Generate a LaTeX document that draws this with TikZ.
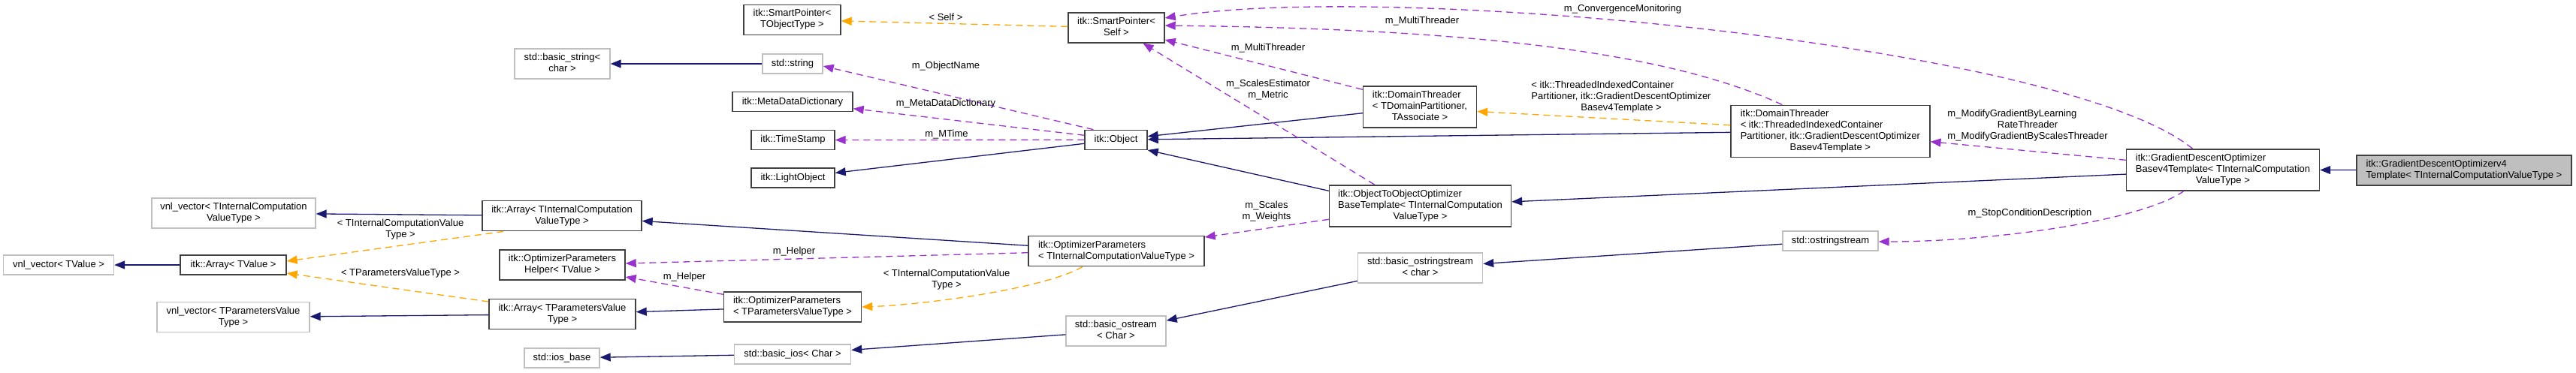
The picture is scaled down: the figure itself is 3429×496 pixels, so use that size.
\documentclass[tikz,border=0pt]{standalone}
\usepackage{fontspec}
\setmainfont{Liberation Sans}
\usetikzlibrary{arrows.meta}
\definecolor{dxblue}{RGB}{25,25,112}
\definecolor{dxorchid}{RGB}{153,50,204}
\definecolor{dxorange}{RGB}{255,165,0}
\definecolor{dxgrey}{RGB}{191,191,191}
\definecolor{dxedge}{RGB}{64,64,64}
% lines left aligned, last line centred
\newcommand{\boxlab}[2]{\begin{tabular}{@{}l@{}}#1\\\multicolumn{1}{@{}c@{}}{#2}\end{tabular}}

\begin{document}
\begin{tikzpicture}[x=1pt, y=-1pt,
    font=\fontsize{13}{15}\selectfont,
    cls/.style={draw=dxedge, line width=1.4pt, inner sep=0pt, fill=white},
    ext/.style={draw=dxgrey, line width=1.4pt, inner sep=0pt, fill=white},
    cur/.style={draw=dxedge, line width=1.4pt, inner sep=0pt, fill=dxgrey},
    oneln/.style={minimum height=26pt},
    twoln/.style={minimum height=40pt},
    threeln/.style={minimum height=55pt},
    fourln/.style={minimum height=69pt},
    inh/.style={dxblue, line width=1.3pt, -{Triangle[length=14pt,width=11pt]}},
    tpl/.style={dxorange, line width=1.3pt, dash pattern=on 9pt off 6pt, -{Triangle[length=14pt,width=11pt]}},
    use/.style={dxorchid, line width=1.3pt, dash pattern=on 9pt off 6pt, -{Triangle[length=14pt,width=11pt]}},
    elab/.style={inner sep=0pt, align=center}]
    \useasboundingbox (0,0) rectangle (3429,496);

    % classes
    \node[ext, twoln, minimum width=218pt] (vnlTIC) at (311,284) {\boxlab{vnl\_vector< TInternalComputation}{ValueType >}};
    \node[ext, oneln, minimum width=147pt] (vnlTV) at (78,353) {vnl\_vector< TValue >};
    \node[cls, oneln, minimum width=141pt] (arrTV) at (310.5,353) {itk::Array< TValue >};
    \node[ext, twoln, minimum width=203pt] (vnlTPV) at (310.5,422.7) {\boxlab{vnl\_vector< TParametersValue}{Type >}};
    \node[cls, twoln, minimum width=129pt] (spTOT) at (1054.5,26.3) {\boxlab{itk::SmartPointer<}{TObjectType >}};
    \node[ext, twoln, minimum width=127pt] (bstr) at (748.5,85) {\boxlab{std::basic\_string<}{char >}};
    \node[ext, oneln, minimum width=80pt] (str) at (1055,85) {std::string};
    \node[cls, oneln, minimum width=160pt] (mdd) at (1055,135.7) {itk::MetaDataDictionary};
    \node[cls, oneln, minimum width=111pt] (ts) at (1055.5,186.5) {itk::TimeStamp};
    \node[cls, oneln, minimum width=111pt] (lo) at (1055.5,237) {itk::LightObject};
    \node[cls, twoln, minimum width=212pt] (arrTIC) at (748,287.7) {\boxlab{itk::Array< TInternalComputation}{ValueType >}};
    \node[cls, twoln, minimum width=167pt] (oph) at (748.5,353) {\boxlab{itk::OptimizerParameters}{Helper< TValue >}};
    \node[cls, twoln, minimum width=195pt] (arrTPV) at (748.5,418.7) {\boxlab{itk::Array< TParametersValue}{Type >}};
    \node[cls, twoln, minimum width=183pt] (opTPV) at (1055,409) {\boxlab{itk::OptimizerParameters}{< TParametersValueType >}};
    \node[ext, oneln, minimum width=100pt] (iosb) at (748,477) {std::ios\_base};
    \node[ext, oneln, minimum width=155pt] (bios) at (1055,472) {std::basic\_ios< Char >};
    \node[cls, twoln, minimum width=128pt] (spSelf) at (1486,37) {\boxlab{itk::SmartPointer<}{Self >}};
    \node[cls, oneln, minimum width=83pt] (obj) at (1485.5,186.3) {itk::Object};
    \node[cls, twoln, minimum width=234pt] (optTIC) at (1486,334.7) {\boxlab{itk::OptimizerParameters}{< TInternalComputationValueType >}};
    \node[ext, twoln, minimum width=133pt] (bos) at (1485.5,441) {\boxlab{std::basic\_ostream}{< Char >}};
    \node[cls, threeln, minimum width=151pt] (dtTD) at (1890,142.5) {\boxlab{itk::DomainThreader\\< TDomainPartitioner,}{TAssociate >}};
    \node[cls, fourln, minimum width=265pt] (dtTIC) at (2436.3,174.7) {\boxlab{itk::DomainThreader\\< itk::ThreadedIndexedContainer\\Partitioner, itk::GradientDescentOptimizer}{Basev4Template >}};
    \node[cls, threeln, minimum width=242pt] (ooTIC) at (1890.5,274.3) {\boxlab{itk::ObjectToObjectOptimizer\\BaseTemplate< TInternalComputation}{ValueType >}};
    \node[ext, twoln, minimum width=166pt] (bosstr) at (1890.5,357) {\boxlab{std::basic\_ostringstream}{< char >}};
    \node[ext, oneln, minimum width=127pt] (osstr) at (2436.5,321) {std::ostringstream};
    \node[cls, threeln, minimum width=257pt] (gdoBase) at (2959,226.3) {\boxlab{itk::GradientDescentOptimizer\\Basev4Template< TInternalComputation}{ValueType >}};
    \node[cur, twoln, minimum width=286pt] (gdov4) at (3280,226.8) {\boxlab{itk::GradientDescentOptimizerv4}{Template< TInternalComputationValueType >}};

    % inheritance
    \draw[inh] (arrTIC) -- (vnlTIC);
    \draw[inh] (arrTV) -- (vnlTV);
    \draw[inh] (arrTPV) -- (vnlTPV);
    \draw[inh] (str) -- (bstr);
    \draw[inh] (obj) -- (lo);
    \draw[inh] (optTIC) -- (arrTIC);
    \draw[inh] (opTPV) -- (arrTPV);
    \draw[inh] (bios) -- (iosb);
    \draw[inh] (bos) -- (bios);
    \draw[inh] (dtTD) -- (obj);
    \draw[inh] (dtTIC) -- (obj);
    \draw[inh] ([yshift=20pt]ooTIC.west) -- (obj.south east);
    \draw[inh] (bosstr) -- (bos);
    \draw[inh] (osstr) -- (bosstr);
    \draw[inh] (gdoBase) -- (ooTIC);
    \draw[inh] (gdov4) -- (gdoBase);

    % template instances
    \draw[tpl] ([xshift=29pt]arrTIC.south west) -- ([yshift=5pt]arrTV.east);
    \draw[tpl] ([yshift=-4pt]arrTPV.north west) -- ([yshift=-11pt]arrTV.east);
    \draw[tpl] (spSelf) -- (spTOT);
    \draw[tpl] ([xshift=-45pt]optTIC.south) .. controls (1390,385) and (1230,406) .. (opTPV.east);
    \draw[tpl] ([yshift=8pt]dtTIC.west) -- ([yshift=-6pt]dtTD.east);
    \node[elab] (lbTIC) at (533,306) {\boxlab{< TInternalComputationValue}{Type >}};
    \node[elab] (lbTPV) at (533,364) {< TParametersValueType >};
    \node[elab] (lbSelf) at (1259,23.3) {< Self >};
    \node[elab] (lbOPT) at (1260,372.5) {\boxlab{< TInternalComputationValue}{Type >}};
    \node[elab] (lbDT) at (2158,129.5) {\boxlab{< itk::ThreadedIndexedContainer\\Partitioner, itk::GradientDescentOptimizer}{Basev4Template >}};

    % members
    \draw[use] ([xshift=12pt]obj.north west) -- ([yshift=-3pt]str.east);
    \draw[use] ([yshift=6pt]obj.west) -- ([yshift=-9pt]mdd.east);
    \draw[use] (obj.west) -- (ts.east);
    \draw[use] ([xshift=61pt]ooTIC.north west) -- ([xshift=35.5pt]spSelf.south);
    \draw[use] ([yshift=-5pt]dtTD.north west) -- ([yshift=-16pt]spSelf.east);
    \draw[use] ([xshift=-64pt]dtTIC.north) .. controls (2200,60) and (1900,38) .. ([yshift=3pt]spSelf.east);
    \draw[use] ([xshift=-40.5pt]gdoBase.north) .. controls (2750,60) and (1850,-25) .. ([yshift=13pt]spSelf.east);
    \draw[use] ([yshift=-2pt]optTIC.west) -- ([yshift=2pt]oph.east);
    \draw[use] ([yshift=-4pt]opTPV.north west) -- ([yshift=-16pt]oph.east);
    \draw[use] ([yshift=-18pt]ooTIC.west) -- ([yshift=-2pt]optTIC.north east);
    \draw[use] ([yshift=13pt]gdoBase.west) -- ([yshift=-14pt]dtTIC.east);
    \draw[use] ([xshift=-52pt]gdoBase.south) .. controls (2850,295) and (2650,322) .. ([yshift=-1pt]osstr.east);
    \node[elab] (lbName) at (1259,87.7) {m\_ObjectName};
    \node[elab] (lbMDD) at (1259,138) {m\_MetaDataDictionary};
    \node[elab] (lbMT) at (1260,179) {m\_MTime};
    \node[elab] (lbSE) at (1688,120) {m\_ScalesEstimator\\m\_Metric};
    \node[elab] (lbMT1) at (1688,64.3) {m\_MultiThreader};
    \node[elab] (lbMT2) at (1893,28.3) {m\_MultiThreader};
    \node[elab] (lbCM) at (2160,11.7) {m\_ConvergenceMonitoring};
    \node[elab] (lbHlp1) at (1057,335) {m\_Helper};
    \node[elab] (lbHlp2) at (911,368.7) {m\_Helper};
    \node[elab] (lbSW) at (1686,282) {m\_Scales\\m\_Weights};
    \node[elab] (lbMG) at (2699,167.7) {\begin{tabular}{@{}l@{}}m\_ModifyGradientByLearning\\\multicolumn{1}{@{}c@{}}{RateThreader}\\m\_ModifyGradientByScalesThreader\end{tabular}};
    \node[elab] (lbSC) at (2702,283.7) {m\_StopConditionDescription};
\end{tikzpicture}
\end{document}
